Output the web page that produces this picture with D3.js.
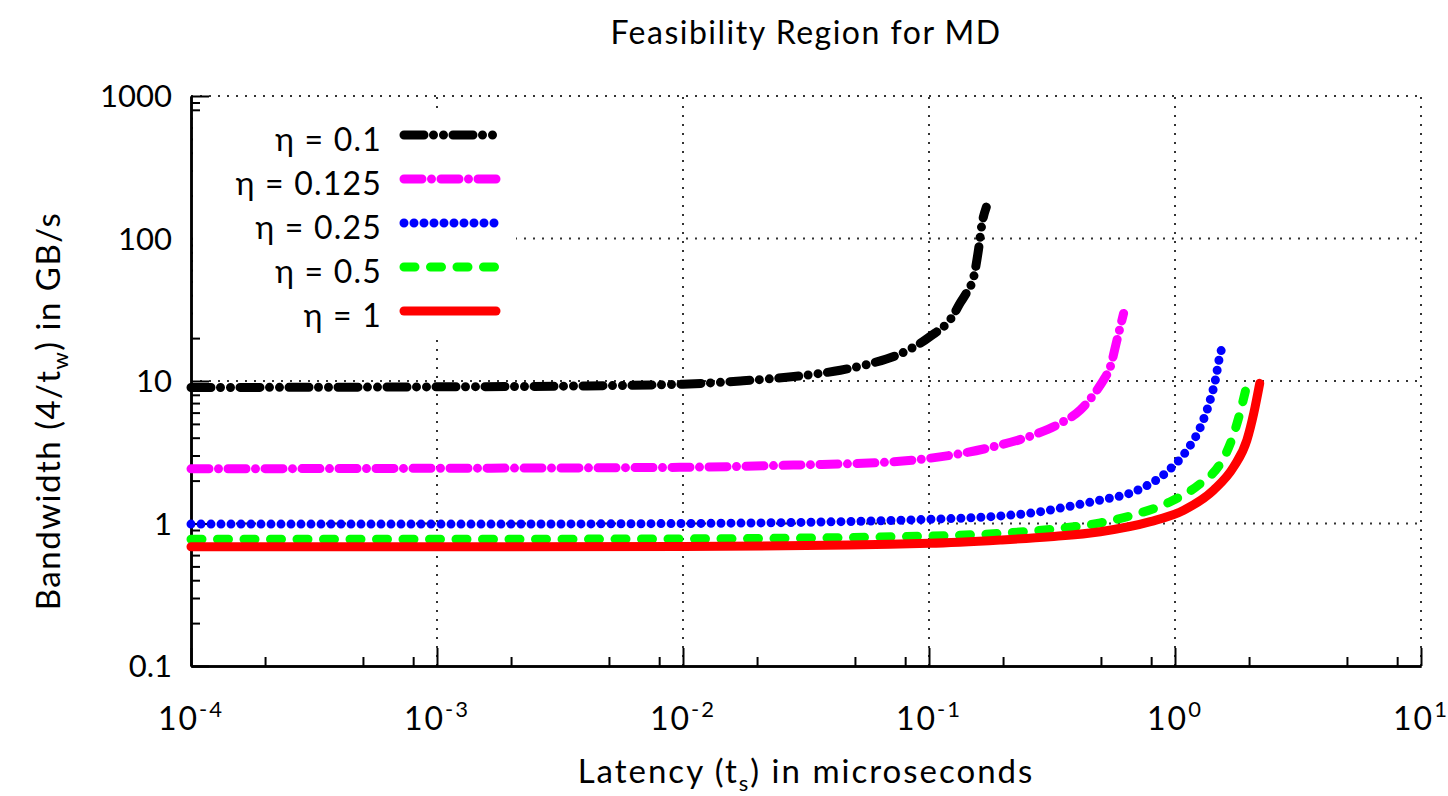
<!DOCTYPE html>
<html>
<head>
<meta charset="utf-8">
<script src="https://cdn.jsdelivr.net/npm/d3@7"></script>
<style>
  body { margin: 0; background: #fff; }
  text { font-family: Lato, "Open Sans", sans-serif; fill: #000; }
</style>
</head>
<body>
<div id="chart"></div>
<script>
// ---- data ----
var etaNames = ["η = 0.1", "η = 0.125", "η = 0.25", "η = 0.5", "η = 1"];

var lat01  = [1e-4, 1e-3, 0.00317, 0.01, 0.0171, 0.0319, 0.0436, 0.0593, 0.0813, 0.1005, 0.1256, 0.134, 0.1427, 0.1517, 0.159, 0.164, 0.171];
var bw01   = [9.0, 9.1, 9.2, 9.5, 10.0, 11.0, 11.9, 13.4, 16.3, 20.4, 29.0, 35.4, 42.2, 53, 84, 125, 166];

var lat0125 = [1e-4, 1e-3, 0.01, 0.0281, 0.0718, 0.1005, 0.183, 0.266, 0.342, 0.412, 0.482, 0.513, 0.546, 0.581, 0.618];
var bw0125  = [2.42, 2.44, 2.48, 2.57, 2.71, 2.87, 3.46, 4.18, 5.05, 6.25, 8.65, 10.2, 12.6, 19.4, 29.8];

var lat025 = [1e-4, 1e-3, 0.01, 0.1005, 0.195, 0.266, 0.364, 0.497, 0.68, 0.929, 1.12, 1.27, 1.39, 1.46, 1.51, 1.57];
var bw025  = [0.99, 0.99, 1.0, 1.07, 1.13, 1.19, 1.31, 1.46, 1.67, 2.31, 3.28, 4.77, 7.37, 10.2, 14.1, 18.4];

var lat05 = [1e-4, 1e-3, 0.01, 0.1005, 0.195, 0.311, 0.497, 0.68, 0.988, 1.27, 1.53, 1.68, 1.82, 1.96];
var bw05  = [0.775, 0.775, 0.78, 0.817, 0.853, 0.91, 1.01, 1.15, 1.46, 1.91, 2.64, 3.66, 5.63, 9.4];

var lat1 = [1e-4, 1e-3, 0.01, 0.1005, 0.195, 0.311, 0.497, 0.794, 1.085, 1.437, 1.733, 1.96, 2.09, 2.21];
var bw1  = [0.687, 0.687, 0.69, 0.726, 0.766, 0.808, 0.876, 1.03, 1.24, 1.72, 2.5, 3.85, 5.94, 9.63];

var xMajor = [1e-4, 1e-3, 1e-2, 1e-1, 1e0, 1e1];
var xExp   = ["-4", "-3", "-2", "-1", "0", "1"];
var yMajor = [0.1, 1, 10, 100, 1000];
var yLabels = ["0.1", "1", "10", "100", "1000"];

// ---- styles ----
var colors = ["#000000", "#ff00ff", "#0000ff", "#00ff00", "#ff0000"];
var dashes = ["20,9.5,0,10,0,9.5", "18,9.5,0,9.5", "0,10", "11,15.5", null];

var series = [
  {name: etaNames[0], lat: lat01, bw: bw01},
  {name: etaNames[1], lat: lat0125, bw: bw0125},
  {name: etaNames[2], lat: lat025, bw: bw025},
  {name: etaNames[3], lat: lat05, bw: bw05},
  {name: etaNames[4], lat: lat1, bw: bw1}
];

// set the dimensions and margins of the graph
var W = 1448, H = 796;
var margin = {top: 96, right: 27, bottom: 130, left: 191},
    width = W - margin.left - margin.right,
    height = H - margin.top - margin.bottom;

var svg = d3.select("#chart")
  .append("svg")
  .attr("width", W)
  .attr("height", H);

var g = svg.append("g")
  .attr("transform", "translate(" + margin.left + "," + margin.top + ")");

var x = d3.scaleLog().domain([1e-4, 10]).range([0, width]);
var y = d3.scaleLog().domain([0.1, 1000]).range([height, 0]);

// minor tick values
var xMinor = [], yMinor = [];
xMajor.slice(0, -1).forEach(function(d) { [2, 5, 8].forEach(function(m) { xMinor.push(d * m); }); });
yMajor.slice(0, -1).forEach(function(d) { d3.range(2, 10).forEach(function(m) { yMinor.push(d * m); }); });

// ---- grid ----
var grid = g.append("g")
  .attr("stroke", "#333")
  .attr("stroke-width", 2)
  .attr("stroke-dasharray", "2,7");
grid.selectAll(".vg").data(xMajor.slice(1)).enter().append("line")
  .attr("x1", function(d) { return x(d); }).attr("x2", function(d) { return x(d); })
  .attr("y1", height).attr("y2", 0);
grid.selectAll(".hg").data(yMajor.slice(1)).enter().append("line")
  .attr("y1", function(d) { return y(d); }).attr("y2", function(d) { return y(d); })
  .attr("x1", 0).attr("x2", width);

// ---- axes ----
function styleAxis(sel) {
  sel.select(".domain").attr("stroke-width", 2.5);
  sel.selectAll(".tick line").attr("stroke-width", 2);
  sel.selectAll(".tick text").remove();
}
g.append("g").attr("transform", "translate(0," + height + ")")
  .call(d3.axisBottom(x).tickValues(xMinor).tickSizeInner(-9).tickSizeOuter(0).tickFormat(""))
  .call(styleAxis);
g.append("g").attr("transform", "translate(0," + height + ")")
  .call(d3.axisBottom(x).tickValues(xMajor).tickSizeInner(-18).tickSizeOuter(0).tickFormat(""))
  .call(styleAxis);
g.append("g")
  .call(d3.axisLeft(y).tickValues(yMinor).tickSizeInner(-9).tickSizeOuter(0).tickFormat(""))
  .call(styleAxis);
g.append("g")
  .call(d3.axisLeft(y).tickValues(yMajor).tickSizeInner(-18).tickSizeOuter(0).tickFormat(""))
  .call(styleAxis);

// tick labels
g.selectAll(".ylab").data(yMajor).enter().append("text")
  .attr("x", -19)
  .attr("y", function(d) { return y(d) + 11; })
  .attr("text-anchor", "end")
  .attr("font-size", 31)
  .text(function(d, i) { return yLabels[i]; });

var xl = g.selectAll(".xlab").data(xMajor).enter().append("text")
  .attr("x", function(d) { return x(d); })
  .attr("y", height + 64)
  .attr("text-anchor", "middle")
  .attr("font-size", 32)
  .attr("letter-spacing", 2);
xl.append("tspan").text("10");
xl.append("tspan").attr("dy", -13).attr("font-size", 22).text(function(d, i) { return xExp[i]; });

// ---- legend box (opaque) ----
g.append("rect")
  .attr("x", 2).attr("y", 17)
  .attr("width", 323).attr("height", 222)
  .attr("fill", "#fff");

// ---- curves ----
var line = d3.line()
  .x(function(d) { return x(d[0]); })
  .y(function(d) { return y(d[1]); })
  .curve(d3.curveMonotoneX);

series.forEach(function(s, i) {
  var pts = s.lat.map(function(v, j) { return [v, s.bw[j]]; });
  g.append("path")
    .datum(pts)
    .attr("d", line)
    .attr("fill", "none")
    .attr("stroke", colors[i])
    .attr("stroke-width", 9)
    .attr("stroke-linecap", "round")
    .attr("stroke-linejoin", "round")
    .attr("stroke-dasharray", dashes[i]);
});

// ---- legend ----
var leg = g.append("g");
series.forEach(function(s, i) {
  var ly = 39 + i * 44;
  leg.append("line")
    .attr("x1", 213).attr("x2", 305)
    .attr("y1", ly).attr("y2", ly)
    .attr("stroke", colors[i])
    .attr("stroke-width", 9)
    .attr("stroke-linecap", "round")
    .attr("stroke-dasharray", dashes[i]);
  leg.append("text")
    .attr("x", 191)
    .attr("y", ly + 16)
    .attr("text-anchor", "end")
    .attr("font-size", 32)
    .attr("letter-spacing", 1.2)
    .text(s.name);
});

// ---- titles ----
svg.append("text")
  .attr("x", 806).attr("y", 44)
  .attr("text-anchor", "middle")
  .attr("font-size", 32)
  .attr("letter-spacing", 1.5)
  .text("Feasibility Region for MD");

var xt = svg.append("text")
  .attr("x", 806).attr("y", 783)
  .attr("text-anchor", "middle")
  .attr("font-size", 33)
  .attr("letter-spacing", 2);
xt.append("tspan").text("Latency (t");
xt.append("tspan").attr("dy", 8).attr("font-size", 22).text("s");
xt.append("tspan").attr("dy", -8).text(") in microseconds");

var yt = svg.append("text")
  .attr("transform", "translate(60,411) rotate(-90)")
  .attr("text-anchor", "middle")
  .attr("font-size", 33)
  .attr("letter-spacing", 1.5);
yt.append("tspan").text("Bandwidth (4/t");
yt.append("tspan").attr("dy", 8).attr("font-size", 22).text("w");
yt.append("tspan").attr("dy", -8).text(") in GB/s");
</script>
</body>
</html>
